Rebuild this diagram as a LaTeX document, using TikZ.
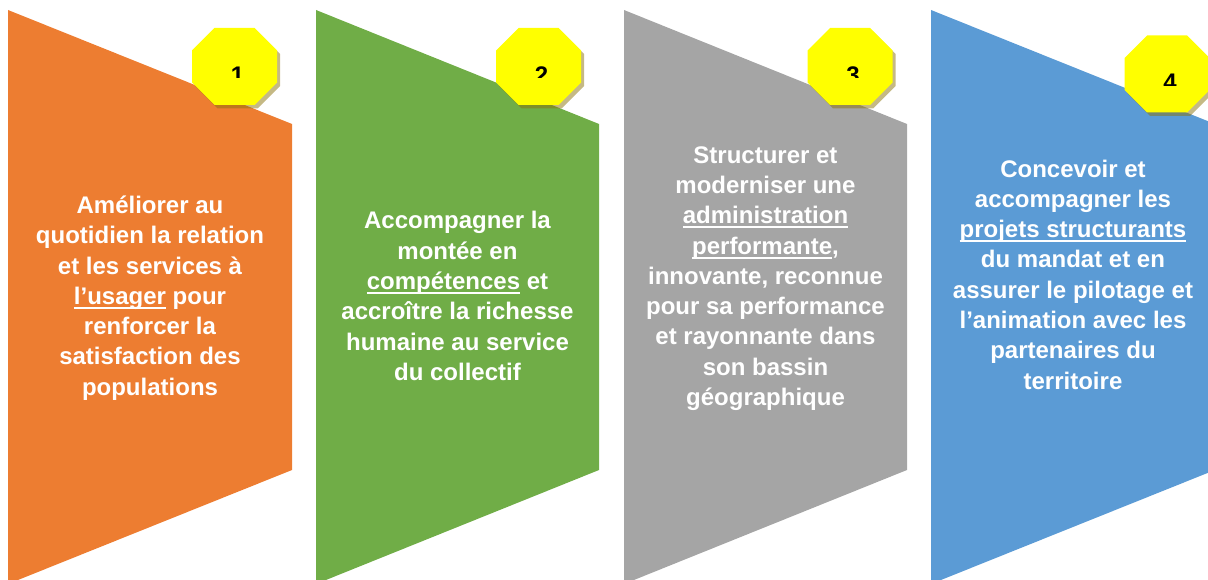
\documentclass[tikz,border=0pt]{standalone}
\usepackage{fontspec}
\setmainfont{Liberation Sans}
\newcommand\uln[1]{\setbox0\hbox{#1}\rlap{\rule[-4.5pt]{\wd0}{1.8pt}}\box0\relax}
\definecolor{c1}{HTML}{ED7D31}
\definecolor{c2}{HTML}{70AD47}
\definecolor{c3}{HTML}{A5A5A5}
\definecolor{c4}{HTML}{5B9BD5}
\definecolor{octy}{HTML}{FFFF00}
\definecolor{shad}{RGB}{140,115,10}
\tikzset{
  panel/.style={draw=none},
  octshadow/.style={fill=shad, fill opacity=0.5},
  octface/.style={fill=octy},
  num/.style={anchor=base, inner sep=0pt, font=\bfseries\fontsize{24}{28}\selectfont, text=black},
  lbl/.style={align=center, inner sep=0pt, text=white, font=\bfseries\fontsize{24}{30.3}\selectfont}
}
\begin{document}
\begin{tikzpicture}[x=1pt,y=-1pt]
\useasboundingbox (0,0) rectangle (1208,580);
\clip (0,0) rectangle (1208,580);
% panels
\fill[panel, c1] (8,10) -- (292,124) -- (292,470) -- (8,584) -- cycle;
\fill[panel, c2] (316,10) -- (599,124) -- (599,470) -- (316,584) -- cycle;
\fill[panel, c3] (624,10) -- (907,124) -- (907,470) -- (624,584) -- cycle;
\fill[panel, c4] (931,10) -- (1215,124) -- (1215,470) -- (931,584) -- cycle;
% octagons
\foreach \cx/\cy/\d in {234.5/66.5/1, 538.5/66.5/2, 850/66.5/3, 1167/74/4} {
  \fill[octshadow, shift={(\cx+3,\cy+3.5)}] (-20,-38.5) -- (20,-38.5) -- (42.5,-16) -- (42.5,16) -- (20,38.5) -- (-20,38.5) -- (-42.5,16) -- (-42.5,-16) -- cycle;
  \fill[octface, shift={(\cx,\cy)}] (-20,-38.5) -- (20,-38.5) -- (42.5,-16) -- (42.5,16) -- (20,38.5) -- (-20,38.5) -- (-42.5,16) -- (-42.5,-16) -- cycle;
  \begin{scope}
    \clip (\cx-40,\cy-30) rectangle (\cx+40,\cy+11.5);
    \node[num] (n\d) at (\cx+3,\cy+17) {\d};
  \end{scope}
}
% labels
\node[lbl] (t1) at (150,298) {Améliorer au\\quotidien la relation\\et les services à\\\uln{l’usager} pour\\renforcer la\\satisfaction des\\populations};
\node[lbl] (t2) at (457.5,296) {Accompagner la\\montée en\\\uln{compétences} et\\accroître la richesse\\humaine au service\\du collectif};
\node[lbl] (t3) at (765.5,278.5) {Structurer et\\moderniser une\\\uln{administration}\\\uln{performante},\\innovante, reconnue\\pour sa performance\\et rayonnante dans\\son bassin\\géographique};
\node[lbl] (t4) at (1073,274.5) {Concevoir et\\accompagner les\\\uln{projets structurants}\\du mandat et en\\assurer le pilotage et\\l’animation avec les\\partenaires du\\territoire};
\end{tikzpicture}
\end{document}
